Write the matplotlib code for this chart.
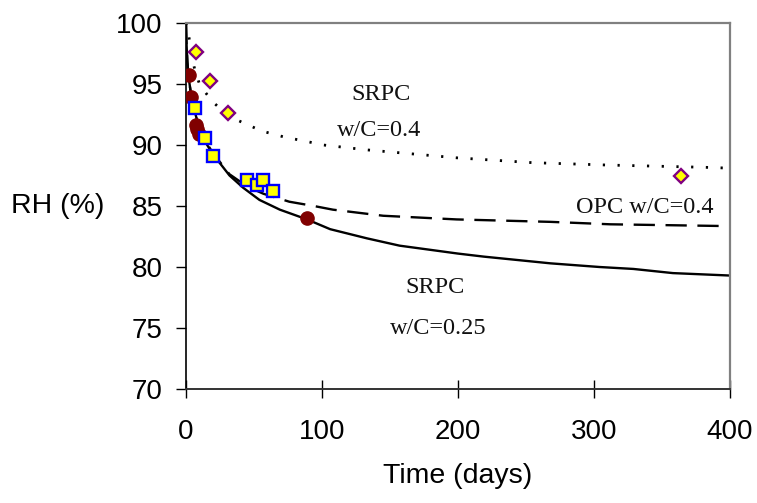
import matplotlib
matplotlib.use("Agg")
import matplotlib.pyplot as plt

# Model curves: time (days) and relative humidity (%)
t_srpc025 = [0, 0.3, 1, 2, 3.5, 5, 7, 10, 15, 20, 25, 32, 42, 54, 69, 89, 106,
             133, 157, 200, 219, 268, 304, 329, 358, 400]
rh_srpc025 = [100, 98.5, 96.8, 95.5, 94.3, 93.4, 92.5, 91.3, 90.1, 89.2, 88.5,
              87.5, 86.5, 85.5, 84.7, 83.9, 83.1, 82.35, 81.75, 81.1, 80.85,
              80.3, 80.0, 79.84, 79.5, 79.3]

t_opc04 = [0, 0.3, 1, 2, 3.5, 5, 7, 10, 15, 20, 25, 32, 45, 57, 76, 94, 108,
           145, 199, 268, 312, 400]
rh_opc04 = [100, 98.5, 96.8, 95.5, 94.3, 93.4, 92.5, 91.3, 90.2, 89.3, 88.6,
            87.6, 86.6, 86.0, 85.35, 85.0, 84.7, 84.2, 83.9, 83.7, 83.5, 83.35]

t_srpc04 = [0, 0.5, 2, 4, 6.4, 9.6, 13.7, 19, 28, 38.5, 55.6, 74, 84, 101, 133,
            199, 255, 309, 382, 400]
rh_srpc04 = [100, 99.6, 99.0, 97.4, 96.2, 95.1, 94.4, 93.6, 92.7, 92.0, 91.15,
             90.6, 90.4, 90.0, 89.6, 88.95, 88.55, 88.36, 88.17, 88.1]

# Measured points
t_circ = [2, 3.7, 7.5, 8.3, 9.8, 89]
rh_circ = [95.7, 93.9, 91.6, 91.3, 90.9, 84.0]

t_sq = [6.9, 14.2, 20.1, 45, 52.4, 56.9, 64.2]
rh_sq = [93.06, 90.6, 89.1, 87.1, 86.7, 87.1, 86.2]

t_dia = [7.4, 17.6, 31, 364]
rh_dia = [97.6, 95.25, 92.6, 87.5]

x_ticks = [0, 100, 200, 300, 400]
y_ticks = [70, 75, 80, 85, 90, 95, 100]

sans = "Liberation Sans"
serif = "Liberation Serif"

fig = plt.figure(figsize=(7.57, 5.03), dpi=100)
ax = fig.add_axes([186 / 757, 1 - 389 / 503, (730 - 186) / 757, (389 - 23) / 503])

ax.plot(t_srpc025, rh_srpc025, color="black", lw=1.7, solid_joinstyle="round", zorder=2)
ax.plot(t_opc04, rh_opc04, color="black", lw=1.7, linestyle=(0, (9, 4.5)), zorder=2)
ax.plot(t_srpc04, rh_srpc04, color="black", lw=2.0, linestyle=(0, (0.8, 4.5)), zorder=2)

ax.plot(t_circ, rh_circ, "o", color="#800000", ms=9.5, mec="#800000", zorder=3)
ax.plot(t_sq, rh_sq, "s", mfc="#FFFF00", mec="#0000FF", ms=8, mew=1.7, zorder=4)
ax.plot(t_dia, rh_dia, "D", mfc="#FFFF00", mec="#800080", ms=7, mew=1.7, zorder=4)

ax.set_xlim(0, 400)
ax.set_ylim(70, 100)
ax.set_xticks(x_ticks)
ax.set_yticks(y_ticks)
ax.set_xticklabels([str(v) for v in x_ticks], fontname=sans, fontsize=20)
ax.set_yticklabels([str(v) for v in y_ticks], fontname=sans, fontsize=20)
ax.tick_params(axis="y", direction="out", length=7, width=1, pad=10, colors="black")
ax.tick_params(axis="x", direction="inout", length=13, width=1, pad=15, colors="black")

ax.spines["left"].set_color("black")
ax.spines["left"].set_linewidth(1.2)
ax.spines["bottom"].set_color("#333333")
ax.spines["bottom"].set_linewidth(1.4)
for side in ("top", "right"):
    ax.spines[side].set_color("#808080")
    ax.spines[side].set_linewidth(1.6)

kw = dict(fontname=serif, fontsize=17.5, ha="center", va="center", color="#111111")
ax.text(143.4, 94.18, "SRPC", **kw)
ax.text(141.9, 91.19, "w/C=0.4", **kw)
ax.text(337.1, 84.84, "OPC w/C=0.4", **kw)
ax.text(183.1, 78.28, "SRPC", **kw)
ax.text(185.3, 74.92, "w/C=0.25", **kw)

fig.text(58 / 757, 1 - 206 / 503, "RH (%)", fontname=sans, fontsize=20.5,
         ha="center", va="center")
fig.text(458 / 757, 1 - 476 / 503, "Time (days)", fontname=sans, fontsize=20.5,
         ha="center", va="center")

fig.savefig("out.png", dpi=100)
